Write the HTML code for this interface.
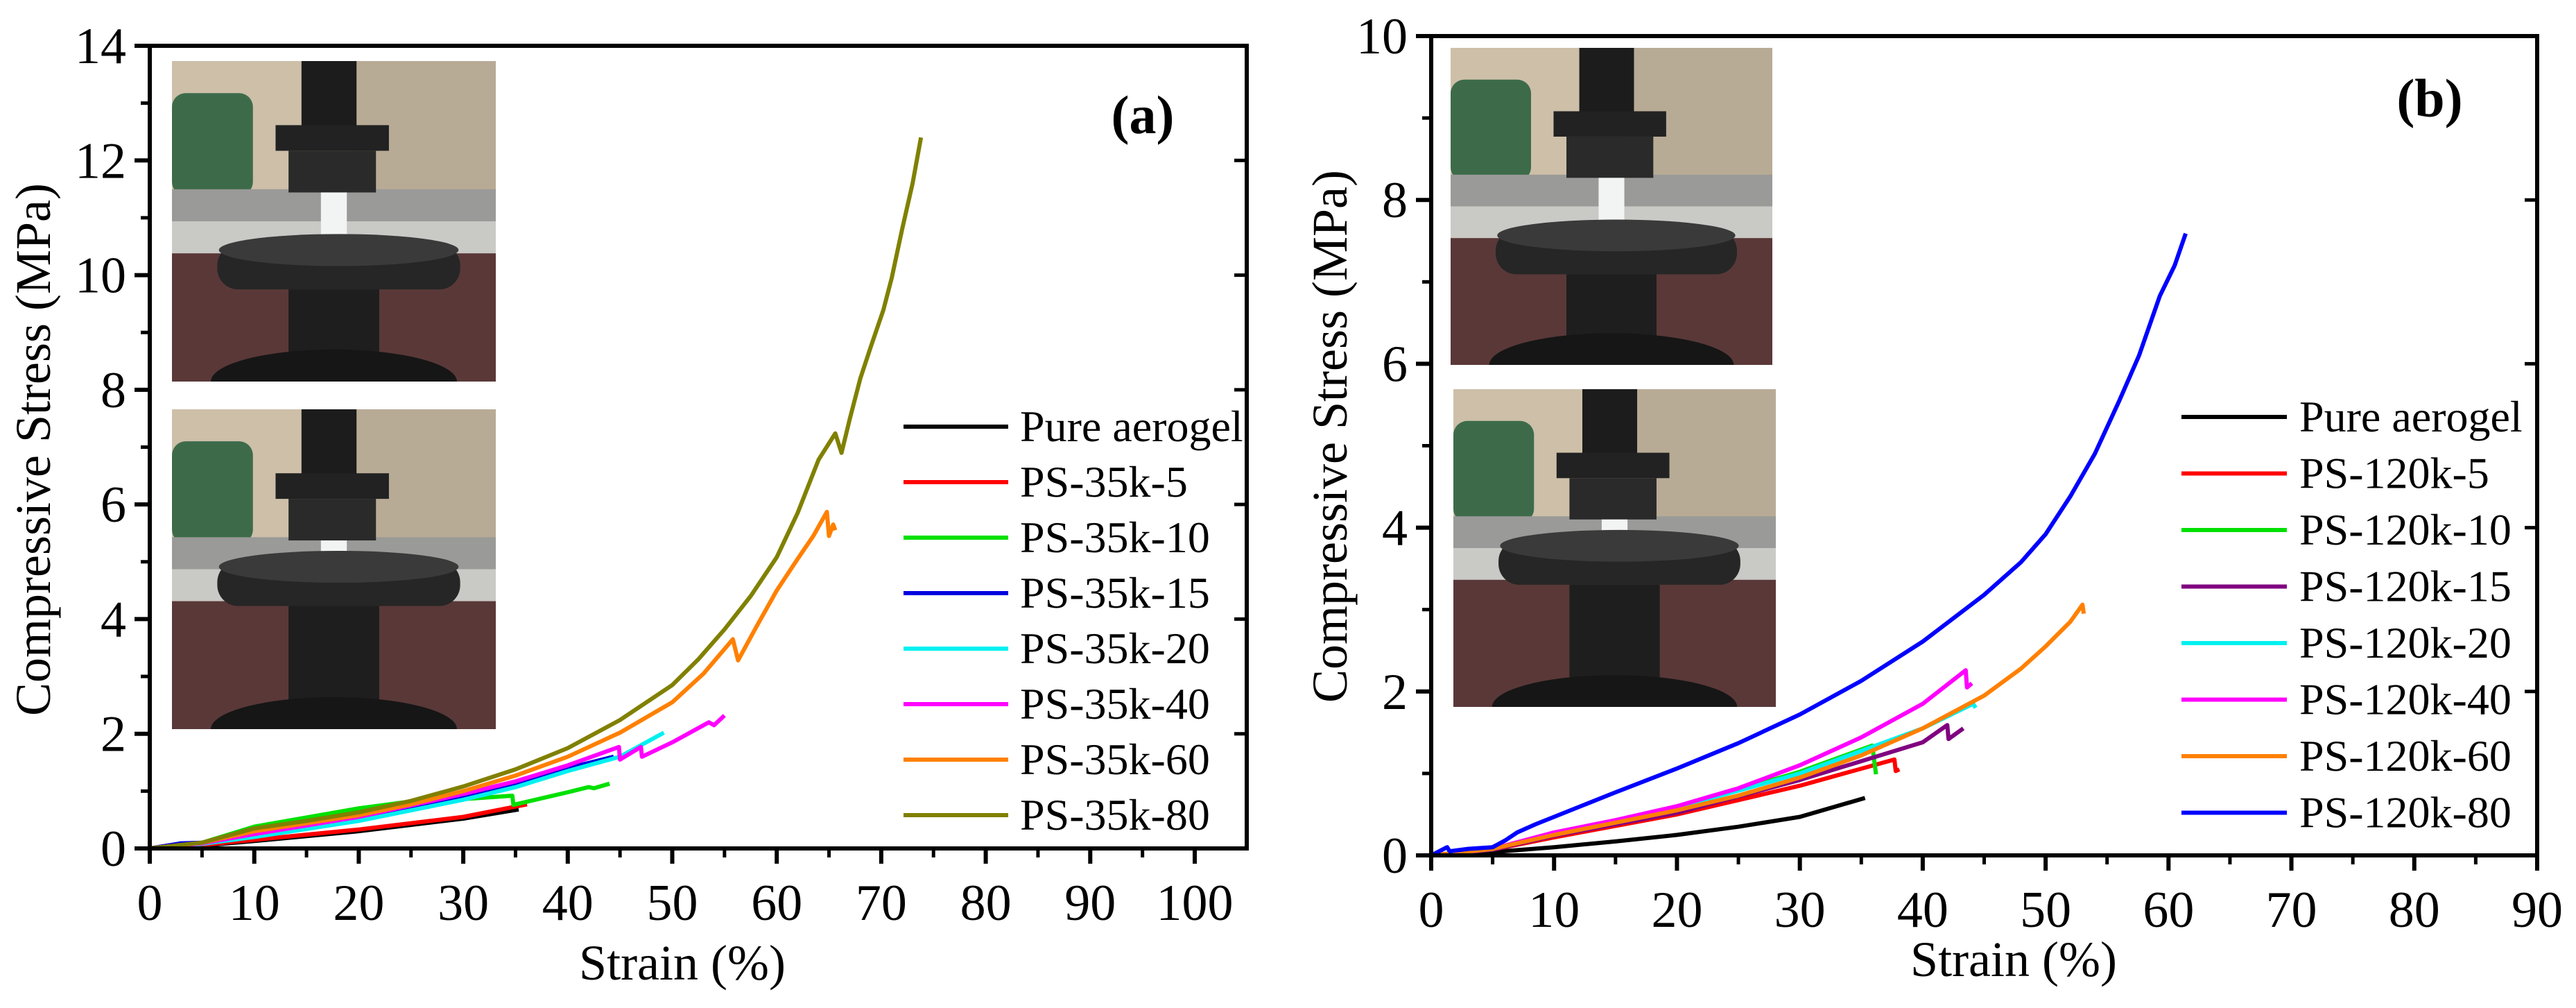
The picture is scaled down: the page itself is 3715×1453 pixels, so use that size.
<!DOCTYPE html>
<html><head><meta charset="utf-8"><style>
body{margin:0;background:#fff}
svg{display:block}
svg text{font-family:"Liberation Serif","Times New Roman",Times,"Noto Serif CJK SC",serif;fill:#000}
</style></head><body>
<svg id="s" width="3715" height="1453" viewBox="0 0 3715 1453" xmlns="http://www.w3.org/2000/svg"></svg>
<script>
// ---- Panel (a) data: [strain %, stress MPa]
const aPure=[[0,0],[5,0.05],[10,0.13],[20,0.3],[30,0.52],[35.3,0.68]];
const a5=[[0,0],[5,0.06],[10,0.15],[20,0.33],[30,0.55],[36.1,0.77]];
const a10=[[0,0],[3,0.08],[5,0.1],[10,0.38],[20,0.7],[25,0.82],[30,0.86],[34.7,0.92],[34.8,0.76],[40,0.98],[42,1.07],[42.5,1.05],[44,1.13]];
const a15=[[0,0],[3,0.09],[5,0.1],[10,0.28],[20,0.55],[30,0.92],[35,1.12],[40,1.4],[44.4,1.6]];
const a20=[[0,0],[5,0.08],[10,0.2],[20,0.48],[30,0.85],[35,1.07],[40,1.35],[45,1.6],[49.2,2.02]];
const a40=[[0,0],[5,0.09],[10,0.25],[20,0.55],[30,0.95],[35,1.17],[40,1.45],[44.9,1.77],[45,1.55],[47,1.77],[47.1,1.6],[50,1.85],[53.5,2.2],[54,2.15],[55,2.32]];
const a60=[[0,0],[5,0.1],[10,0.3],[15,0.44],[20,0.58],[25,0.77],[30,1.0],[35,1.27],[40,1.6],[45,2.02],[50,2.55],[53,3.05],[55.8,3.65],[56.3,3.28],[58,3.85],[60,4.5],[62,5.05],[63.5,5.45],[64.8,5.87],[65,5.45],[65.4,5.65],[65.6,5.55]];
const a80=[[0,0],[5,0.1],[10,0.35],[15,0.48],[20,0.63],[25,0.83],[30,1.08],[35,1.38],[40,1.75],[45,2.24],[50,2.85],[52.5,3.3],[55,3.82],[57.5,4.4],[60,5.08],[62,5.85],[64,6.78],[65.6,7.24],[66.2,6.9],[67,7.5],[68,8.2],[69,8.75],[70.2,9.39],[71,9.95],[72,10.8],[73,11.6],[73.8,12.4]];
// ---- Panel (b) data
const bPure=[[0,0],[5,0.04],[10,0.1],[15,0.17],[20,0.25],[25,0.35],[30,0.47],[35.3,0.7]];
const b5=[[0,0],[5,0.07],[10,0.22],[20,0.5],[30,0.85],[36,1.1],[37.7,1.17],[37.8,1.03],[38.1,1.05]];
const b10=[[0,0],[5,0.07],[10,0.27],[20,0.58],[30,1.02],[35.9,1.34],[36.2,0.99]];
const b15=[[0,0],[5,0.07],[10,0.24],[20,0.52],[30,0.92],[40,1.38],[42,1.59],[42.1,1.42],[43.3,1.55]];
const b20=[[0,0],[5,0.08],[10,0.27],[20,0.58],[30,1.0],[40,1.55],[44.1,1.85],[44.3,1.8]];
const b40=[[0,0],[5,0.08],[10,0.28],[15,0.43],[20,0.6],[25,0.82],[30,1.1],[35,1.44],[40,1.85],[43.5,2.26],[43.6,2.05],[44,2.1]];
const b60=[[0,0],[5,0.08],[10,0.25],[15,0.4],[20,0.55],[25,0.73],[30,0.95],[35,1.22],[40,1.55],[45,1.95],[48,2.28],[50,2.55],[52,2.85],[53,3.06],[53.1,2.95]];
const b80=[[0,0],[1.3,0.1],[1.5,0.05],[3,0.08],[5,0.1],[6,0.18],[7,0.28],[8.5,0.38],[10,0.47],[15,0.77],[20,1.06],[25,1.37],[30,1.72],[35,2.13],[40,2.61],[45,3.18],[48,3.58],[50,3.92],[52,4.38],[54,4.9],[56,5.55],[57.6,6.1],[59.3,6.83],[60.5,7.2],[61.4,7.59]];
const aNames=["Pure aerogel","PS-35k-5","PS-35k-10","PS-35k-15","PS-35k-20","PS-35k-40","PS-35k-60","PS-35k-80"];
const bNames=["Pure aerogel","PS-120k-5","PS-120k-10","PS-120k-15","PS-120k-20","PS-120k-40","PS-120k-60","PS-120k-80"];
const aXTicks=[0,10,20,30,40,50,60,70,80,90,100];
const aYTicks=[0,2,4,6,8,10,12,14];
const bXTicks=[0,10,20,30,40,50,60,70,80,90];
const bYTicks=[0,2,4,6,8,10];

const NS="http://www.w3.org/2000/svg";
const svg=document.getElementById('s');
function mk(tag,attrs,parent){const e=document.createElementNS(NS,tag);for(const k in attrs)e.setAttribute(k,attrs[k]);if(tag==='text')e.style.fontFamily='"Liberation Serif","Times New Roman",Times,"Noto Serif CJK SC",serif';(parent||svg).appendChild(e);return e;}
const defs=mk('defs',{});
let clipN=0;
function photo(g0,x,y,w,h,gap){
  const id='clip'+(clipN++);
  const cp=mk('clipPath',{id:id},defs);mk('rect',{x:x,y:y,width:w,height:h},cp);
  const g=mk('g',{'clip-path':'url(#'+id+')'},g0);
  mk('rect',{x:x,y:y,width:w,height:h,fill:'#cdbfa8'},g);
  mk('rect',{x:x+w*0.55,y:y,width:w*0.45,height:h*0.45,fill:'#b8ab96'},g);
  mk('rect',{x:x,y:y+h*0.1,width:w*0.25,height:h*0.32,rx:20,fill:'#3d6b4a'},g);
  mk('rect',{x:x,y:y+h*0.4,width:w,height:h*0.1,fill:'#9a9a98'},g);
  mk('rect',{x:x,y:y+h*0.5,width:w,height:h*0.1,fill:'#c9c9c6'},g);
  mk('rect',{x:x,y:y+h*0.6,width:w,height:h*0.4,fill:'#5a3838'},g);
  mk('rect',{x:x+w*0.4,y:y,width:w*0.17,height:h*0.22,fill:'#1c1c1c'},g);
  mk('rect',{x:x+w*0.32,y:y+h*0.2,width:w*0.35,height:h*0.08,fill:'#222'},g);
  mk('rect',{x:x+w*0.36,y:y+h*0.28,width:w*0.27,height:h*0.13,fill:'#2a2a2a'},g);
  mk('rect',{x:x+w*0.46,y:y+h*0.41,width:w*0.08,height:gap,fill:'#f2f4f4'},g);
  const py=y+h*0.41+gap;
  mk('rect',{x:x+w*0.14,y:py,width:w*0.75,height:h*0.14,rx:30,fill:'#262626'},g);
  mk('ellipse',{cx:x+w*0.515,cy:py+8,rx:w*0.37,ry:h*0.05,fill:'#3a3a3a'},g);
  mk('rect',{x:x+w*0.36,y:py+h*0.14,width:w*0.28,height:h-(py-y)-h*0.14,fill:'#1e1e1e'},g);
  mk('ellipse',{cx:x+w*0.5,cy:y+h,rx:w*0.38,ry:h*0.1,fill:'#161616'},g);
}

function panel(o){
  const g=mk('g',{});
  
  
  const X=v=>o.L+(v-o.x0)*(o.R-o.L)/(o.x1-o.x0);
  const Y=v=>o.B-(v-o.y0)*(o.B-o.T)/(o.y1-o.y0);
  o.insets.forEach((r,i)=>{const pg=mk('g',{},g);
    
    
    photo(pg,r[0],r[1],r[2],r[3],r[4]);});
  o.series.forEach((s,i)=>{
    const p=mk('polyline',{points:s.map(d=>X(d[0]).toFixed(1)+','+Y(d[1]).toFixed(1)).join(' '),fill:'none',stroke:o.colors[i],'stroke-width':6,'stroke-linejoin':'round'},g);
    
    
  });
  const fr=mk('rect',{x:o.L,y:o.T,width:o.R-o.L,height:o.B-o.T,fill:'none',stroke:'#000','stroke-width':6},g);
  
  
  const xt=mk('g',{},g);
  
  
  o.xt.forEach((v,i)=>{
    mk('line',{x1:X(v),x2:X(v),y1:o.B,y2:o.B+22,stroke:'#000','stroke-width':6},xt);
    if(i<o.xt.length-1){const m=X(v+(o.xt[1]-o.xt[0])/2);mk('line',{x1:m,x2:m,y1:o.B,y2:o.B+13,stroke:'#000','stroke-width':5},xt);}
    const t=mk('text',{x:X(v),y:o.B+103,'font-size':74,'text-anchor':'middle'},xt);t.textContent=v;
  });
  const yt=mk('g',{},g);
  
  
  o.yt.forEach((v,i)=>{
    mk('line',{x1:o.L-22,x2:o.L,y1:Y(v),y2:Y(v),stroke:'#000','stroke-width':6},yt);
    mk('line',{x1:o.R-18,x2:o.R,y1:Y(v),y2:Y(v),stroke:'#000','stroke-width':5},yt);
    if(i<o.yt.length-1){const m=Y(v+(o.yt[1]-o.yt[0])/2);mk('line',{x1:o.L-13,x2:o.L,y1:m,y2:m,stroke:'#000','stroke-width':5},yt);}
    const t=mk('text',{x:o.L-34,y:Y(v)+25,'font-size':74,'text-anchor':'end'},yt);t.textContent=v;
  });
  const xl=mk('text',{x:o.xlx,y:o.xly,'font-size':72,'text-anchor':'middle'},g);xl.textContent='Strain (%)';
  
  const yl=mk('text',{x:0,y:0,'font-size':72,'text-anchor':'middle',transform:`translate(${o.ylx},${o.yly}) rotate(-90)`},g);yl.textContent='Compressive Stress (MPa)';
  
  const pl=mk('text',{x:o.lab[0],y:o.lab[1],'font-size':78,'font-weight':'bold','text-anchor':'middle'},g);pl.textContent='('+o.id+')';
  
  const lg=mk('g',{},g);
  
  o.names.forEach((n,i)=>{
    const y=o.leg[1]+i*o.leg[4];
    const e=mk('g',{},lg);
    
    mk('line',{x1:o.leg[0],x2:o.leg[2],y1:y,y2:y,stroke:o.colors[i],'stroke-width':6},e);
    const t=mk('text',{x:o.leg[3],y:y+21,'font-size':64},e);t.textContent=n;
  });
}
panel({id:'a',L:216,R:1798,T:66,B:1223,x0:0,x1:(1798-216)/15.07,y0:0,y1:14,xt:aXTicks,yt:aYTicks,
  series:[aPure,a5,a10,a15,a20,a40,a60,a80],names:aNames,
  colors:['#000','#ff0000','#00e000','#0000e0','#00f0f0','#ff00ff','#ff8000','#808000'],
  insets:[[248,88,467,462,75],[248,590,467,461,30]],
  xlx:984,xly:1412,ylx:72,yly:648,lab:[1648,192],leg:[1303,615,1454,1471,80]});
panel({id:'b',L:2064,R:3659,T:52,B:1233,x0:0,x1:90,y0:0,y1:10,xt:bXTicks,yt:bYTicks,
  series:[bPure,b5,b10,b15,b20,b40,b60,b80],names:bNames,
  colors:['#000','#ff0000','#00e000','#800080','#00f0f0','#ff00ff','#ff8000','#0000ff'],
  insets:[[2092,69,464,457,75],[2096,561,465,458,30]],
  xlx:2904,xly:1407,ylx:1942,yly:629,lab:[3504,168],leg:[3146,601,3298,3316,81.5]});
</script>
</body></html>
